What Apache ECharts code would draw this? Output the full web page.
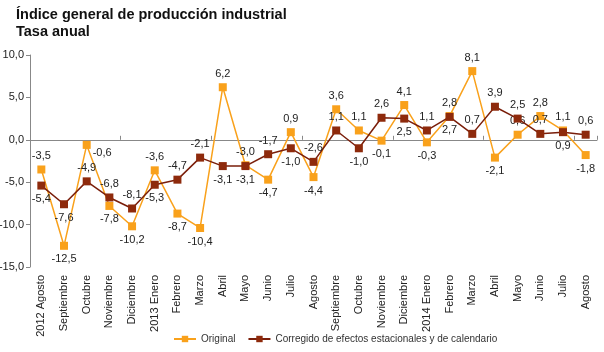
<!DOCTYPE html>
<html><head><meta charset="utf-8">
<script src="https://cdn.jsdelivr.net/npm/echarts@6/dist/echarts.min.js"></script>
<style>html,body{margin:0;padding:0;background:#fff}#c{width:604px;height:352px}</style>
</head><body><div id="c"></div>
<script>
const categories = ["2012 Agosto","Septiembre","Octubre","Noviembre","Diciembre","2013 Enero","Febrero","Marzo","Abril","Mayo","Junio","Julio","Agosto","Septiembre","Octubre","Noviembre","Diciembre","2014 Enero","Febrero","Marzo","Abril","Mayo","Junio","Julio","Agosto"];
const original = [-3.5,-12.5,-0.6,-7.8,-10.2,-3.6,-8.7,-10.4,6.2,-3.0,-4.7,0.9,-4.4,3.6,1.1,-0.1,4.1,-0.3,2.8,8.1,-2.1,0.6,2.8,1.1,-1.8];
const corregido = [-5.4,-7.6,-4.9,-6.8,-8.1,-5.3,-4.7,-2.1,-3.1,-3.1,-1.7,-1.0,-2.6,1.1,-1.0,2.6,2.5,1.1,2.7,0.7,3.9,2.5,0.7,0.9,0.6];
const origPos = ["top","bottom","right","bottom","bottom","top","bottom","bottom","top","top","bottom","top","bottom","top","top","bottom","top","bottom","top","top","bottom","top","top","top","bottom"];
const corrPos = ["bottom","bottom","top","top","top","bottom","top","top","bottom","bottom","top","bottom","top","top","bottom","top","bottom","top","bottom","top","top","top","top","bottom","top"];
const yTicks = {min:-15, max:10, interval:5};

const fmt = v => v.toFixed(1).replace('.', ',');
const lbl = {show:true, fontFamily:'Arial, Liberation Sans', fontSize:11, color:'#222', distance:4, formatter:p=>fmt(p.value)};
function mk(vals, pos){ return vals.map((v,i)=>({value:v, label:{position:pos[i], offset: pos[i]==='right'?[-2,8]:[0,0]}})); }

const chart = echarts.init(document.getElementById('c'));
chart.setOption({
  animation:false,
  title:{text:'Índice general de producción industrial\nTasa anual', left:11, top:1,
    textStyle:{fontFamily:'Arial, Liberation Sans', fontSize:14.5, fontWeight:'bold', color:'#111', lineHeight:17}},
  grid:{left:30, right:7, top:55, bottom:85, outerBoundsMode:'none', containLabel:false},
  legend:{bottom:3, left:168, itemWidth:22, itemHeight:8, itemGap:12,
    textStyle:{fontFamily:'Arial, Liberation Sans', fontSize:10, color:'#333'},
    data:['Original','Corregido de efectos estacionales y de calendario']},
  xAxis:[
    {type:'category', data:categories, boundaryGap:true,
     axisLine:{onZero:true, lineStyle:{color:'#888'}}, axisTick:{show:true, inside:true, length:4, lineStyle:{color:'#888'}},
     axisLabel:{show:false}, splitLine:{show:false}},
    {type:'category', data:categories, position:'bottom', boundaryGap:true,
     axisLine:{show:false}, axisTick:{show:false},
     axisLabel:{rotate:90, interval:0, margin:8, fontFamily:'Arial, Liberation Sans', fontSize:11, color:'#222'}}
  ],
  yAxis:{type:'value', min:yTicks.min, max:yTicks.max, interval:yTicks.interval,
    axisLine:{show:true, lineStyle:{color:'#888'}}, axisTick:{show:true, length:4, lineStyle:{color:'#888'}},
    splitLine:{show:false},
    axisLabel:{fontFamily:'Arial, Liberation Sans', fontSize:11, color:'#222', margin:6, formatter:v=>fmt(v)}},
  series:[
    {name:'Original', type:'line', xAxisIndex:0, data:mk(original, origPos), symbol:'rect', symbolSize:8,
     lineStyle:{color:'#F9A11B', width:1.5}, itemStyle:{color:'#F9A11B'}, label:lbl, z:2},
    {name:'Corregido de efectos estacionales y de calendario', type:'line', xAxisIndex:0, data:mk(corregido, corrPos), symbol:'rect', symbolSize:8,
     lineStyle:{color:'#7A1E0A', width:1.5}, itemStyle:{color:'#8E2A0C'}, label:lbl, z:3}
  ]
});
</script></body></html>
